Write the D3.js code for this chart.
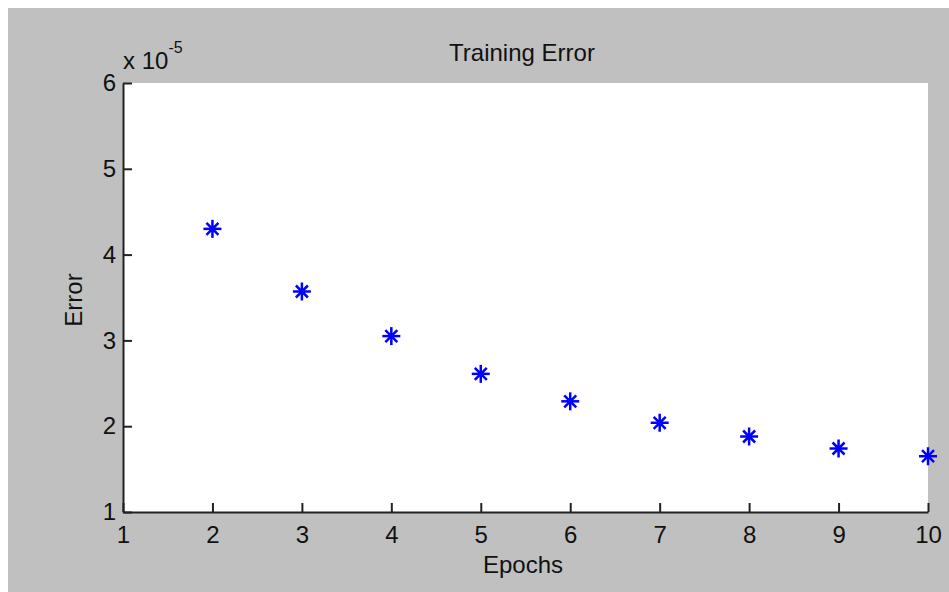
<!DOCTYPE html>
<html>
<head>
<meta charset="utf-8">
<script src="https://cdn.jsdelivr.net/npm/d3@7"></script>
<style>
  body { margin: 0; background: #fff; }
  svg text { font-family: "Liberation Sans", Arial, sans-serif; fill: #111; }
</style>
</head>
<body>
<svg id="chart" width="949" height="592"></svg>
<script>
// data
const epochs = [2, 3, 4, 5, 6, 7, 8, 9, 10];
const errors = [4.30e-5, 3.57e-5, 3.05e-5, 2.61e-5, 2.29e-5, 2.04e-5, 1.88e-5, 1.74e-5, 1.65e-5];
const xTicks = [1, 2, 3, 4, 5, 6, 7, 8, 9, 10];
const yTicks = [1e-5, 2e-5, 3e-5, 4e-5, 5e-5, 6e-5];

const svg = d3.select('#chart');
const plot = { left: 123, right: 928, top: 83, bottom: 512 };

// figure background
svg.append('rect')
    .attr('x', 8).attr('y', 8)
    .attr('width', 941).attr('height', 584)
    .attr('fill', '#c0c0c0');

svg.append('rect')
    .attr('x', plot.left).attr('y', plot.top)
    .attr('width', plot.right - plot.left).attr('height', plot.bottom - plot.top)
    .attr('fill', '#fff');

const x = d3.scaleLinear().domain([1, 10]).range([plot.left, plot.right]);
const y = d3.scaleLinear().domain([1e-5, 6e-5]).range([plot.bottom, plot.top]);

const xAxis = d3.axisBottom(x)
    .tickValues(xTicks)
    .tickFormat(d3.format('d'))
    .tickSizeInner(-9)
    .tickSizeOuter(0)
    .tickPadding(14);

const yAxis = d3.axisLeft(y)
    .tickValues(yTicks)
    .tickFormat(d => Math.round(d * 1e5))
    .tickSizeInner(-9)
    .tickSizeOuter(0)
    .tickPadding(7);

const gx = svg.append('g')
    .attr('transform', `translate(0,${plot.bottom})`)
    .call(xAxis);
const gy = svg.append('g')
    .attr('transform', `translate(${plot.left},0)`)
    .call(yAxis);

[gx, gy].forEach(g => {
    g.selectAll('path.domain').attr('stroke', '#222').attr('stroke-width', 2);
    g.selectAll('.tick line').attr('stroke', '#222').attr('stroke-width', 2);
    g.selectAll('.tick text')
        .attr('font-size', 24)
        .attr('font-family', '"Liberation Sans", Arial, sans-serif')
        .attr('fill', '#111');
});

// asterisk markers
const marks = svg.append('g')
    .selectAll('g')
    .data(epochs.map((e, i) => ({ e, v: errors[i] })))
    .join('g')
    .attr('transform', d => `translate(${x(d.e)},${y(d.v)})`)
    .attr('stroke', '#0000ff')
    .attr('stroke-width', 2.5);

marks.append('line').attr('x1', -9).attr('x2', 9).attr('y1', 0).attr('y2', 0);
marks.append('line').attr('x1', 0).attr('x2', 0).attr('y1', -9).attr('y2', 9);
marks.append('line').attr('x1', -6).attr('x2', 6).attr('y1', -6).attr('y2', 6);
marks.append('line').attr('x1', -6).attr('x2', 6).attr('y1', 6).attr('y2', -6);
marks.append('circle').attr('r', 3).attr('fill', '#0000ff').attr('stroke', 'none');

// labels
svg.append('text')
    .attr('x', 522).attr('y', 61)
    .attr('text-anchor', 'middle')
    .attr('font-size', 24)
    .text('Training Error');

svg.append('text')
    .attr('x', 523).attr('y', 573)
    .attr('text-anchor', 'middle')
    .attr('font-size', 24)
    .text('Epochs');

svg.append('text')
    .attr('transform', 'translate(82,300) rotate(-90)')
    .attr('text-anchor', 'middle')
    .attr('font-size', 24)
    .text('Error');

const expo = svg.append('text')
    .attr('x', 123).attr('y', 69)
    .attr('font-size', 24);
expo.append('tspan').text('x 10');
expo.append('tspan')
    .attr('font-size', 16)
    .attr('dy', -16)
    .text('-5');
</script>
</body>
</html>
